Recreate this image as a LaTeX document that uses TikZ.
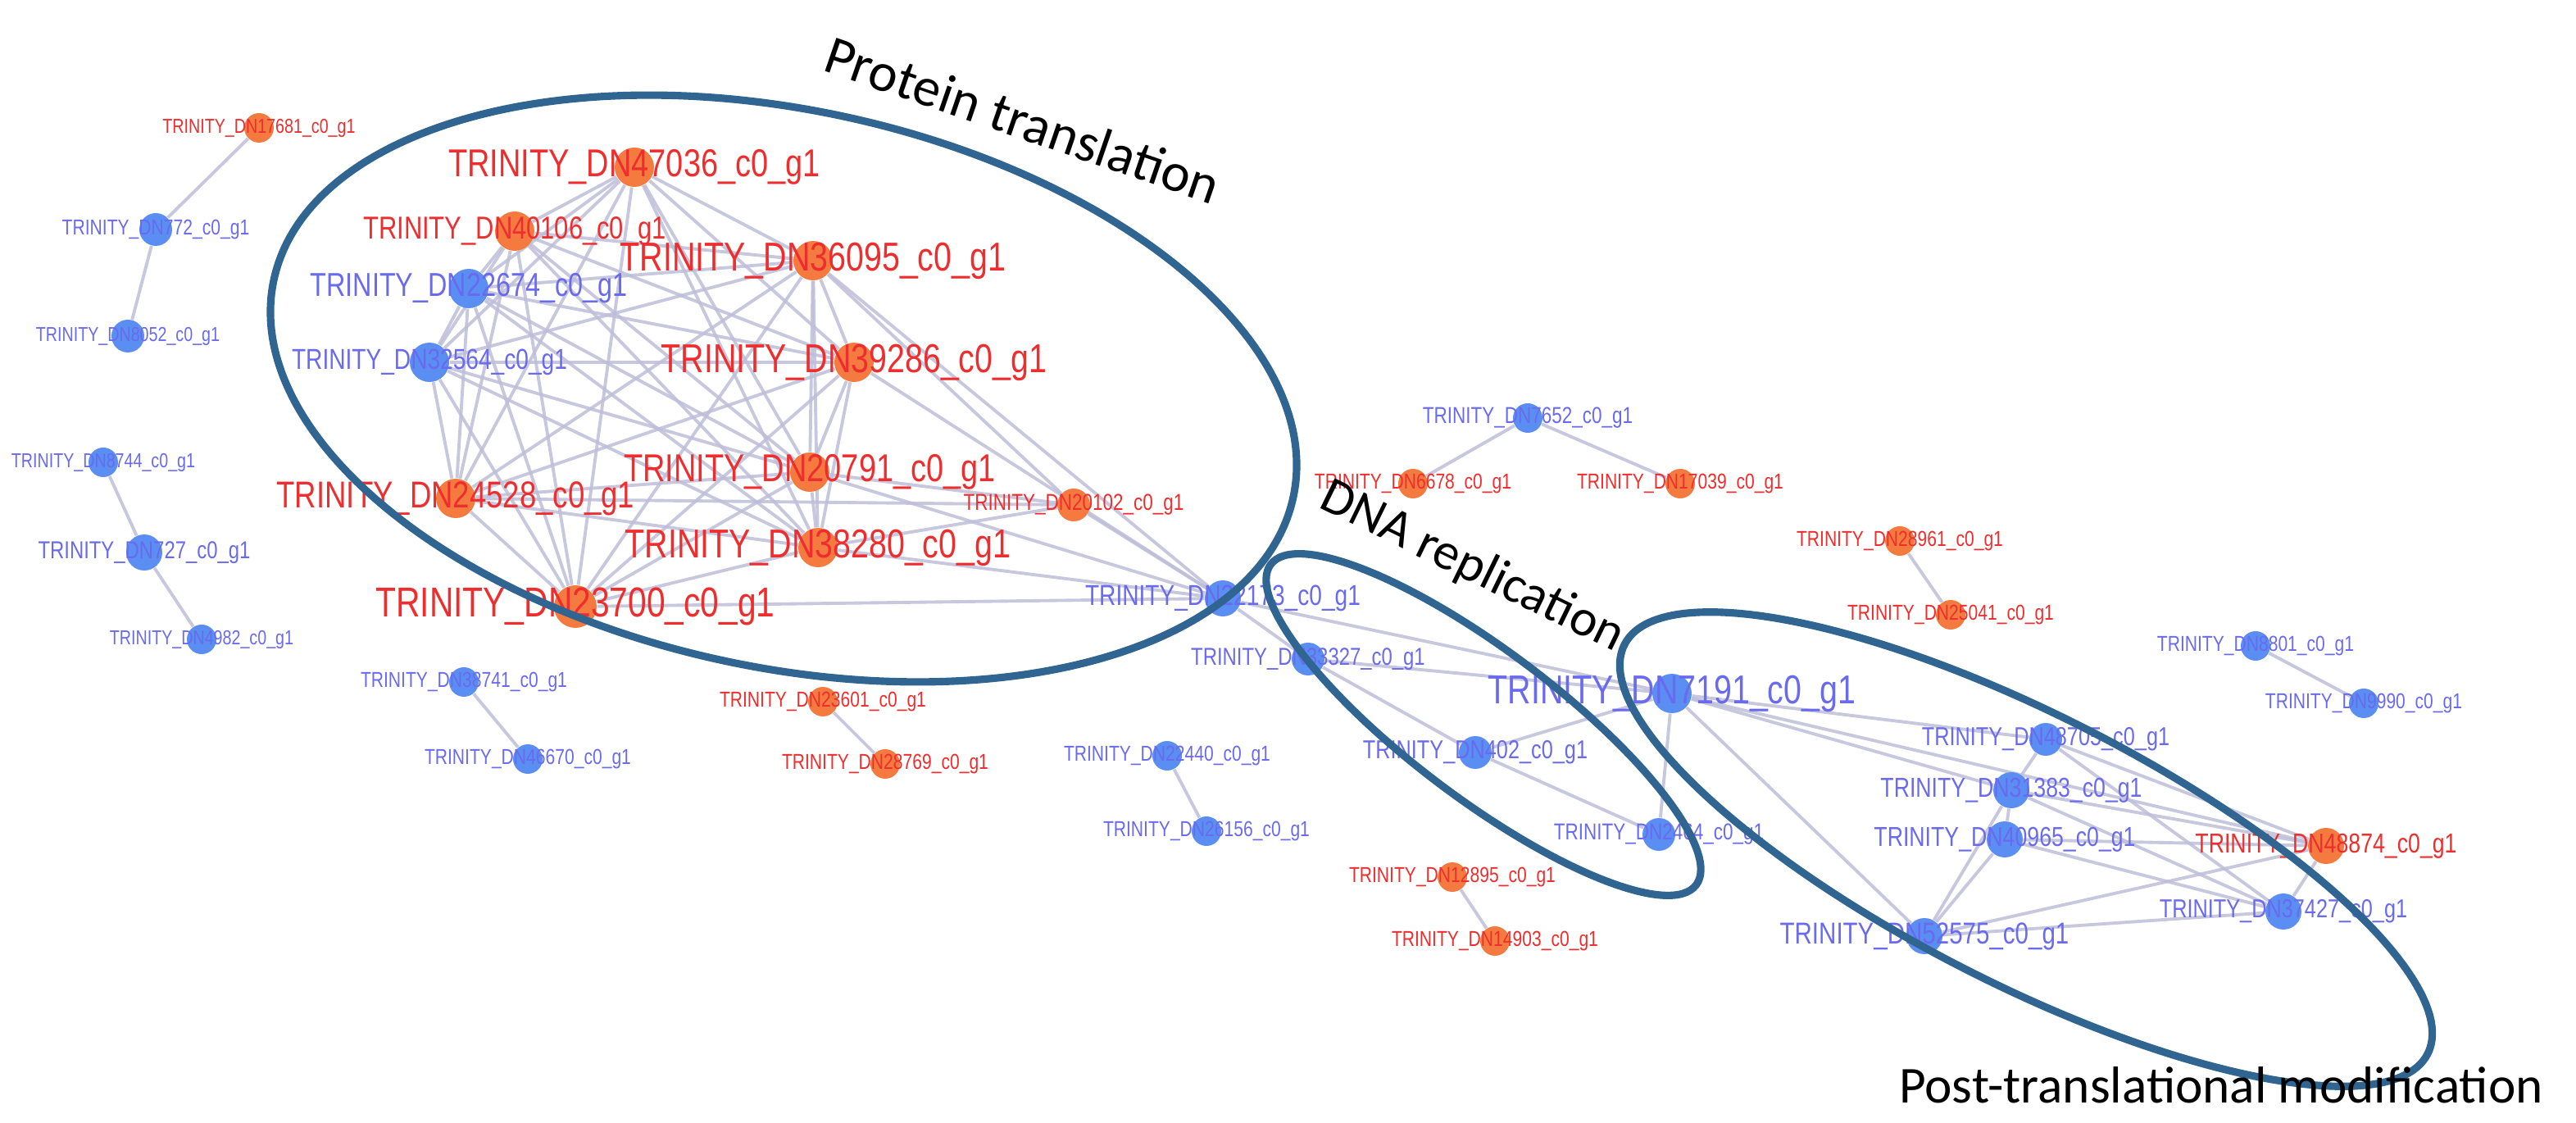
\documentclass[tikz,border=0pt]{standalone}
\usepackage{fontspec}
\setmainfont{Liberation Sans}
\newfontfamily\annf{Carlito}
\usetikzlibrary{backgrounds}
\definecolor{nred}{HTML}{F47A3F}
\definecolor{nblue}{HTML}{5A8EF2}
\definecolor{tred}{HTML}{EE2E2E}
\definecolor{tblue}{HTML}{6A6AEE}
\definecolor{edgec}{HTML}{BDBDD8}
\definecolor{ellc}{HTML}{2F6590}
\newcommand\gnode[6]{%
  \node[gn#4, minimum size=#5*0.04cm] (n#1) at (#2,#3) {};
  \node[lab#4, font=\fontsize{#6}{#6}\selectfont] (l#1) at (#2,#3) {\scalebox{0.8}[1]{TRINITY\_DN#1\_c0\_g1}};}
\begin{document}
\begin{tikzpicture}[x=0.02cm,y=-0.02cm,
  gnr/.style={circle,fill=nred,inner sep=0pt},
  gnb/.style={circle,fill=nblue,inner sep=0pt},
  labr/.style={text=tred,inner sep=0pt},
  labb/.style={text=tblue,inner sep=0pt},
  ed/.style={draw=edgec,line width=1.1pt,opacity=0.85},
  ell/.style={draw=ellc,line width=2.6pt},
  ann/.style={font=\annf\fontsize{19}{19}\selectfont,text=black}]
\useasboundingbox (0,0) rectangle (1571.5,685);
% left
\gnode{17681}{158}{78}{r}{9}{7}
\gnode{772}{95}{140}{b}{10}{7.5}
\gnode{8052}{78}{205}{b}{10}{7}
\gnode{8744}{63}{282}{b}{9}{7}
\gnode{727}{88}{337}{b}{11}{8.5}
\gnode{4982}{123}{390}{b}{9}{7}
% protein
\gnode{47036}{387}{102}{r}{12}{13.5}
\gnode{40106}{314}{141}{r}{12}{11}
\gnode{22674}{286}{176}{b}{12}{11.5}
\gnode{32564}{262}{221}{b}{12}{10}
\gnode{36095}{496}{159}{r}{12}{14}
\gnode{39286}{521}{221}{r}{12}{14}
\gnode{20791}{494}{288}{r}{12}{13.5}
\gnode{24528}{278}{304}{r}{12}{13}
\gnode{38280}{499}{334}{r}{12}{14}
\gnode{23700}{351}{370}{r}{13}{14.5}
\gnode{20102}{655}{308}{r}{10}{8}
\gnode{22173}{746}{365}{b}{11}{10}
% misc
\gnode{38741}{283}{416}{b}{9}{7.5}
\gnode{46670}{322}{463}{b}{9}{7.5}
\gnode{23601}{502}{428}{r}{9}{7.5}
\gnode{28769}{540}{466}{r}{9}{7.5}
\gnode{7652}{932}{255}{b}{9}{8}
\gnode{6678}{862}{295}{r}{9}{7.5}
\gnode{17039}{1025}{295}{r}{9}{7.5}
\gnode{28961}{1159}{330}{r}{9}{7.5}
\gnode{25041}{1190}{375}{r}{9}{7.5}
\gnode{22440}{712}{461}{b}{9}{7.5}
\gnode{26156}{736}{507}{b}{9}{7.5}
\gnode{12895}{886}{535}{r}{9}{7.5}
\gnode{14903}{912}{574}{r}{9}{7.5}
\gnode{8801}{1376}{394}{b}{9}{7.5}
\gnode{9990}{1442}{429}{b}{9}{7.5}
% DNA
\gnode{33327}{798}{402}{b}{10}{8.5}
\gnode{402}{900}{459}{b}{10}{9}
\gnode{2464}{1012}{509}{b}{10}{8}
\gnode{7191}{1020}{423}{b}{12}{14}
% PTM
\gnode{48705}{1248}{451}{b}{10}{9}
\gnode{31383}{1227}{482}{b}{11}{9.5}
\gnode{40965}{1223}{512}{b}{11}{9.5}
\gnode{48874}{1419}{516}{r}{11}{9.5}
\gnode{37427}{1393}{556}{b}{11}{9}
\gnode{52575}{1174}{571}{b}{11}{10.5}
\begin{scope}[on background layer]
\foreach \a/\b in {17681/772,772/8052,8744/727,727/4982,38741/46670,23601/28769,7652/6678,7652/17039,28961/25041,22440/26156,12895/14903,8801/9990}
  \draw[ed] (n\a) -- (n\b);
\foreach \a [count=\i] in {47036,40106,22674,32564,36095,39286,20791,24528,38280,23700}{
  \foreach \b [count=\j] in {47036,40106,22674,32564,36095,39286,20791,24528,38280,23700}{
    \ifnum\i<\j \draw[ed] (n\a) -- (n\b); \fi }}
\foreach \a/\b in {36095/20102,20791/20102,38280/20102,24528/20102,36095/22173,20791/22173,38280/22173,23700/22173,20102/22173,39286/22173,
  22173/33327,22173/7191,33327/7191,33327/402,402/7191,402/2464,7191/2464,
  7191/48705,7191/31383,7191/48874,7191/52575,48705/31383,48705/48874,48705/37427,31383/40965,31383/48874,31383/37427,40965/48874,40965/37427,40965/52575,31383/52575,52575/48874,52575/37427,48874/37427}
  \draw[ed] (n\a) -- (n\b);
\end{scope}
% ellipses
\draw[ell,rotate around={-12:(478,237)}] (478,237) ellipse [x radius=6.36cm, y radius=3.4cm];
\draw[ell,rotate around={-37:(905,442)}] (905,442) ellipse [x radius=3.25cm, y radius=0.9cm];
\draw[ell,rotate around={-27:(1236,518)}] (1236,518) ellipse [x radius=5.5cm, y radius=1.64cm];
% annotations
\node[ann,rotate=-19] (a1) at (624,73) {Protein translation};
\node[ann,rotate=-26,font=\annf\fontsize{18}{18}\selectfont] (a2) at (898,346) {DNA replication};
\node[ann,font=\annf\fontsize{18}{18}\selectfont] (a3) at (1355,662) {Post-translational modification};
\end{tikzpicture}
\end{document}
